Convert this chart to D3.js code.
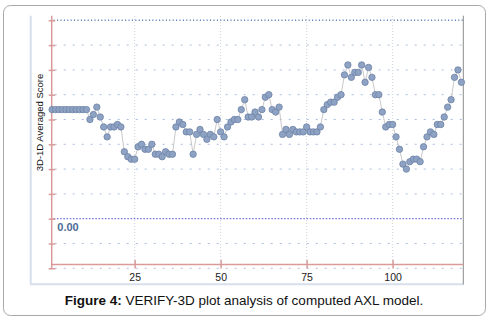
<!DOCTYPE html>
<html lang="en">
  <head>
    <meta charset="UTF-8" />
    <title>VERIFY-3D</title>
    <script src="https://cdn.jsdelivr.net/npm/d3@7"></script>
    <style>
      body { margin: 0; background: #fff; }
      svg { display: block; font-family: "Liberation Sans", Arial, sans-serif; }
    </style>
  </head>
  <body>
    <svg width="488" height="321"></svg>
  </body>
  <script>
    // residue numbers 1..120 and their averaged 3D-1D scores
    var residues = d3.range(1, 121);
    var scores = [
      0.44, 0.44, 0.44, 0.44, 0.44, 0.44, 0.44, 0.44, 0.44, 0.44,
      0.44, 0.40, 0.42, 0.45, 0.41, 0.37, 0.33, 0.37, 0.37, 0.38,
      0.37, 0.27, 0.25, 0.24, 0.24, 0.29, 0.30, 0.28, 0.28, 0.30,
      0.26, 0.26, 0.25, 0.27, 0.26, 0.26, 0.37, 0.39, 0.38, 0.35,
      0.35, 0.26, 0.34, 0.36, 0.34, 0.32, 0.34, 0.33, 0.40, 0.35,
      0.33, 0.37, 0.39, 0.40, 0.40, 0.44, 0.48, 0.41, 0.41, 0.43,
      0.41, 0.44, 0.49, 0.50, 0.44, 0.43, 0.45, 0.34, 0.36, 0.34,
      0.36, 0.35, 0.35, 0.35, 0.37, 0.35, 0.35, 0.35, 0.37, 0.44,
      0.46, 0.47, 0.47, 0.49, 0.50, 0.58, 0.62, 0.57, 0.59, 0.59,
      0.62, 0.55, 0.61, 0.57, 0.50, 0.50, 0.43, 0.37, 0.38, 0.38,
      0.33, 0.28, 0.22, 0.20, 0.23, 0.24, 0.24, 0.23, 0.29, 0.33,
      0.35, 0.34, 0.38, 0.38, 0.41, 0.45, 0.48, 0.57, 0.60, 0.55
    ];
    var xTicks = [25, 50, 75, 100];
    var yTicks = [-0.2, -0.1, 0, 0.1, 0.2, 0.3, 0.4, 0.5, 0.6, 0.7, 0.8];
    var zeroLabel = "0.00";
    var yTitle = "3D-1D Averaged Score";
    var captionBold = "Figure 4:";
    var captionText = " VERIFY-3D plot analysis of computed AXL model.";

    var svg = d3.select("svg");
    var data = residues.map((r, i) => ({ r: r, v: scores[i] }));

    var x = d3.scaleLinear().domain([1, 120]).range([52.1, 461.4]);
    var y = d3.scaleLinear().domain([-0.2, 0.8]).range([268.3, 20.3]);
    var left = x(1) - 0.4;
    var right = 463.3;
    var axisY = y(-0.185);

    // outer rounded frame
    svg
      .append("rect")
      .attr("x", 3.5)
      .attr("y", 5.5)
      .attr("width", 482)
      .attr("height", 310)
      .attr("rx", 7)
      .attr("fill", "#fff")
      .attr("stroke", "#a8a8a8")
      .attr("stroke-width", 1);

    // plot panel edges
    svg.append("line").attr("x1", 30.7).attr("x2", 30.7).attr("y1", 15.7).attr("y2", 284.5)
      .attr("stroke", "#d6dfeb").attr("stroke-width", 2);
    svg.append("line").attr("x1", 30).attr("x2", right).attr("y1", 284.3).attr("y2", 284.3)
      .attr("stroke", "#d6dfeb").attr("stroke-width", 2);
    svg.append("line").attr("x1", right).attr("x2", right).attr("y1", 15.7).attr("y2", 284.5)
      .attr("stroke", "#8a8a8a").attr("stroke-width", 1);

    // horizontal grid
    svg
      .append("g")
      .selectAll("line")
      .data(yTicks.filter((t) => t !== 0 && t !== 0.8))
      .join("line")
      .attr("x1", left + 3)
      .attr("x2", right)
      .attr("y1", (d) => y(d))
      .attr("y2", (d) => y(d))
      .attr("stroke", "#a9bedd")
      .attr("stroke-width", 1)
      .attr("stroke-dasharray", "2,7");

    // vertical grid
    svg
      .append("g")
      .selectAll("line")
      .data(xTicks)
      .join("line")
      .attr("x1", (d) => x(d))
      .attr("x2", (d) => x(d))
      .attr("y1", 16)
      .attr("y2", axisY)
      .attr("stroke", "#cfd3dc")
      .attr("stroke-width", 1)
      .attr("stroke-dasharray", "1,2");

    // top limit and zero lines
    svg.append("line").attr("x1", left + 2).attr("x2", right).attr("y1", y(0.8)).attr("y2", y(0.8))
      .attr("stroke", "#4f78b4").attr("stroke-width", 1.5).attr("stroke-dasharray", "1,2.4");
    svg.append("line").attr("x1", left + 2).attr("x2", right).attr("y1", y(0)).attr("y2", y(0))
      .attr("stroke", "#7579cf").attr("stroke-width", 1.3).attr("stroke-dasharray", "1.6,1.6");

    svg
      .append("text")
      .attr("x", 57.3)
      .attr("y", y(0) + 12.5)
      .attr("font-size", "11px")
      .attr("font-weight", "bold")
      .attr("fill", "#4d6b96")
      .text(zeroLabel);

    // red axes
    var red = "#d99a9a";
    svg.append("line").attr("x1", left).attr("x2", left).attr("y1", 15.7).attr("y2", y(-0.2))
      .attr("stroke", red).attr("stroke-width", 1.5);
    svg.append("line").attr("x1", left).attr("x2", right).attr("y1", axisY).attr("y2", axisY)
      .attr("stroke", red).attr("stroke-width", 1.5);

    var yAxis = d3.axisLeft(y).tickValues(yTicks).tickSizeInner(3).tickSizeOuter(0).tickFormat("");
    var gy = svg.append("g").attr("transform", "translate(" + left + ",0)").call(yAxis);
    gy.select(".domain").remove();
    gy.selectAll(".tick line").attr("x1", 3.5).attr("x2", -3).attr("stroke", red).attr("stroke-width", 1.5);

    var xAxis = d3.axisBottom(x).tickValues(xTicks).tickSize(4).tickPadding(5);
    var gx = svg.append("g").attr("transform", "translate(0," + axisY + ")").call(xAxis);
    gx.select(".domain").remove();
    gx.selectAll(".tick line").attr("y1", -4.5).attr("y2", 4).attr("stroke", red).attr("stroke-width", 1.5);
    gx.selectAll(".tick text")
      .attr("font-family", "Liberation Sans, Arial, sans-serif")
      .attr("font-size", "10.5px")
      .attr("fill", "#222");

    // axis title
    svg
      .append("text")
      .attr("transform", "translate(43,122.5) rotate(-90)")
      .attr("text-anchor", "middle")
      .attr("font-size", "9.5px")
      .attr("fill", "#111")
      .text(yTitle);

    // connecting line and points
    var line = d3.line().x((d) => x(d.r)).y((d) => y(d.v));
    svg.append("path").datum(data).attr("d", line).attr("fill", "none")
      .attr("stroke", "#c9c9c9").attr("stroke-width", 1);

    svg
      .append("g")
      .selectAll("circle")
      .data(data)
      .join("circle")
      .attr("cx", (d) => x(d.r))
      .attr("cy", (d) => y(d.v))
      .attr("r", 3.2)
      .attr("fill", "#8ea3c4")
      .attr("stroke", "#6c82a6")
      .attr("stroke-width", 0.8);

    // caption
    var cap = svg
      .append("text")
      .attr("x", 244)
      .attr("y", 305)
      .attr("text-anchor", "middle")
      .attr("font-size", "13.5px")
      .attr("fill", "#111");
    cap.append("tspan").attr("font-weight", "bold").text(captionBold);
    cap.append("tspan").text(captionText);
  </script>
</html>
